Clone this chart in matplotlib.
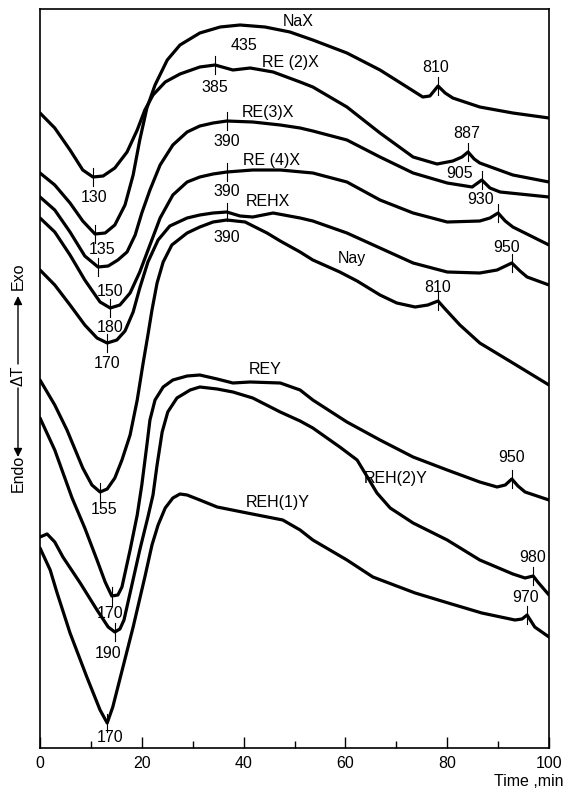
import numpy as np
import matplotlib
matplotlib.use("Agg")
import matplotlib.pyplot as plt
from matplotlib.patches import FancyArrowPatch

plt.rcParams['font.family'] = ['Liberation Sans', 'DejaVu Sans']

# ---------------- data: time (min) and ΔT (arbitrary units, exo up) ----------------
nax_t = [0, 2.9, 5.9, 8.4, 10.8, 12.8, 14.7, 16.7, 18.3, 19.6, 21.0, 22.6, 25.0, 27.5, 31.4,
         35.4, 39.3, 44.2, 49.1, 53.6, 60.3, 66.8, 72.1, 75.2, 76.6, 78.2, 79.6, 81.1, 86.4, 92.9, 100]
nax_dt = [575, 563, 545, 527, 514, 515, 523, 543, 573, 608, 640, 663, 688, 703, 715,
          721, 723, 721, 716, 708, 695, 678, 661, 651, 652, 662, 655, 650, 641, 635, 630]

re2x_t = [0, 2.9, 5.9, 8.4, 10.4, 12.4, 14.7, 17.1, 19.1, 20.6, 22.2, 24.6, 27.5, 31.4, 34.4,
          37.9, 41.3, 45.8, 51.1, 53.6, 60.3, 66.8, 73.3, 78.0, 81.1, 82.9, 84.1, 85.3, 86.4, 92.9, 100]
re2x_dt = [635, 620, 598, 578, 571, 572, 580, 596, 618, 638, 653, 666, 674, 681, 683,
           678, 680, 676, 666, 661, 641, 615, 591, 584, 587, 591, 596, 589, 585, 573, 566]

re3x_t = [0, 2.9, 5.9, 8.8, 11.4, 13.4, 15.3, 17.1, 18.7, 20.0, 21.6, 23.6, 26.1, 28.9, 31.4,
          34.0, 36.7, 41.8, 47.2, 51.1, 53.6, 60.3, 66.8, 73.3, 80.0, 84.9, 86.8, 88.4, 90.4, 100]
re3x_dt = [551, 538, 516, 492, 481, 482, 488, 496, 513, 535, 558, 583, 603, 616, 622,
           625, 627, 626, 623, 620, 617, 608, 591, 575, 565, 561, 568, 560, 556, 551]

re4x_t = [0, 2.9, 5.9, 8.8, 11.8, 13.8, 15.7, 17.7, 19.6, 21.6, 23.6, 26.1, 28.9, 31.4, 34.0,
          36.7, 41.8, 47.2, 53.6, 60.3, 66.8, 73.3, 80.0, 86.4, 88.4, 90.0, 91.4, 92.9, 100]
re4x_dt = [530, 516, 493, 468, 446, 440, 443, 455, 476, 503, 530, 553, 566, 571, 574,
           576, 578, 578, 575, 566, 548, 535, 526, 527, 530, 535, 527, 521, 503]

rehx_t = [0, 2.9, 5.9, 8.8, 11.2, 13.2, 15.1, 16.7, 18.3, 19.6, 21.2, 23.2, 25.5, 28.9, 31.4,
          34.0, 36.7, 39.3, 41.8, 45.8, 51.1, 53.6, 60.3, 66.8, 73.3, 80.0, 86.4, 89.8, 92.7,
          94.3, 95.7, 100]
rehx_dt = [478, 463, 443, 423, 410, 405, 408, 417, 436, 460, 486, 508, 522, 530, 533,
           535, 536, 532, 531, 535, 530, 527, 515, 500, 485, 476, 475, 478, 485,
           477, 471, 463]

nay_t = [0, 2.9, 5.3, 8.4, 10.2, 11.8, 13.2, 14.7, 16.1, 17.7, 19.1, 20.2, 21.2, 22.0, 23.0,
         24.2, 25.9, 28.9, 31.4, 34.0, 36.7, 40.3, 44.6, 47.2, 51.1, 53.6, 58.9, 62.3, 66.8,
         70.1, 73.7, 76.2, 78.2, 79.6, 82.5, 86.4, 92.9, 100]
nay_dt = [368, 343, 318, 280, 263, 256, 259, 270, 288, 313, 348, 383, 413, 438, 465,
          486, 503, 515, 521, 526, 528, 526, 515, 507, 496, 488, 476, 467, 453,
          445, 441, 443, 447, 439, 423, 405, 385, 363]

rey_t = [0, 2.9, 6.3, 8.8, 11.2, 12.8, 14.1, 15.3, 16.1, 17.7, 19.1, 20.0, 21.0, 21.6, 22.6,
         24.2, 26.1, 28.9, 31.4, 34.8, 37.9, 41.3, 47.2, 51.1, 53.6, 60.3, 66.8, 73.3, 80.0,
         86.4, 89.8, 91.4, 92.7, 93.9, 95.3, 100]
rey_dt = [330, 298, 250, 220, 188, 166, 152, 153, 161, 198, 233, 263, 303, 328, 348,
          361, 368, 372, 373, 369, 365, 366, 365, 358, 348, 326, 308, 291, 278,
          266, 261, 263, 269, 262, 256, 248]

reh2y_t = [0, 1.4, 2.9, 4.5, 7.9, 11.2, 13.4, 14.7, 15.7, 16.5, 17.7, 19.6, 21.2, 22.2, 23.0,
           24.0, 25.1, 26.9, 29.5, 31.4, 34.8, 37.9, 41.8, 47.2, 51.1, 53.6, 58.9, 62.3, 64.2,
           66.2, 68.8, 73.3, 80.0, 86.4, 92.9, 95.3, 96.9, 97.8, 100]
reh2y_dt = [211, 214, 206, 191, 165, 138, 121, 116, 119, 128, 155, 198, 231, 253, 283,
            316, 336, 350, 358, 361, 359, 356, 350, 336, 327, 320, 301, 288, 272,
            255, 240, 225, 208, 188, 174, 170, 172, 166, 153]

reh1y_t = [0, 2.0, 3.3, 5.9, 9.2, 11.8, 13.2, 14.3, 16.3, 18.3, 20.6, 22.0, 23.2, 24.6, 26.1,
           27.5, 28.9, 31.4, 34.8, 40.7, 47.7, 51.1, 53.6, 60.3, 65.4, 73.7, 80.2, 86.8, 93.3,
           94.7, 95.7, 97.2, 100]
reh1y_dt = [200, 178, 156, 115, 71, 38, 25, 41, 81, 121, 171, 203, 223, 240, 250,
            254, 253, 248, 241, 235, 228, 218, 208, 188, 171, 155, 145, 135, 128,
            129, 133, 121, 111]

curve_names = ["NaX", "RE (2)X", "RE(3)X", "RE (4)X", "REHX", "Nay", "REY", "REH(2)Y", "REH(1)Y"]
curve_t = [nax_t, re2x_t, re3x_t, re4x_t, rehx_t, nay_t, rey_t, reh2y_t, reh1y_t]
curve_dt = [nax_dt, re2x_dt, re3x_dt, re4x_dt, rehx_dt, nay_dt, rey_dt, reh2y_dt, reh1y_dt]

# temperature marks (°C) on each trace: curve index, time of the mark, label
mark_curve = [0, 0, 0, 1, 1, 1, 2, 2, 2, 3, 3, 3, 4, 4, 4, 5, 5, 6, 6, 7, 7, 8, 8]
mark_t = [10.8, 39.3, 78.2, 10.4, 34.4, 84.1, 11.4, 36.7, 86.8, 13.8, 36.7, 90.0,
          13.2, 36.7, 92.7, 11.8, 78.2, 14.1, 92.7, 14.7, 96.9, 13.2, 95.7]
mark_text = ["135", "435", "810", "130", "385", "887", "150", "390", "905", "180", "390", "930",
             "170", "390", "950", "155", "810", "170", "950", "190", "980", "170", "970"]

x_ticks = [0, 20, 40, 60, 80, 100]
x_minor = [10, 30, 50, 70, 90]

# ---------------- layout ----------------
W, H = 565, 799
fig = plt.figure(figsize=(W / 100, H / 100), dpi=100)
L, R, T, B = 40, 549, 9, 748
ax = fig.add_axes([L / W, 1 - B / H, (R - L) / W, (B - T) / H])
ax.set_xlim(0, 100)
ax.set_ylim(0, B - T)

for t, d in zip(curve_t, curve_dt):
    ax.plot(t, d, color='black', lw=2.3, solid_joinstyle='round', solid_capstyle='round')

# curve name label positions (data coords)
name_pos = [(50.7, 726), (49.1, 686), (44.8, 635), (45.4, 588), (44.8, 546),
            (61.3, 490), (44.2, 378), (69.9, 270), (46.8, 245)]
for name, (lx, ly) in zip(curve_names, name_pos):
    ax.text(lx, ly, name, ha='center', va='center', fontsize=11.5)

# mark label positions and whether a small tick is drawn
mark_label_pos = [(12.2, 498), (40.1, 703), (77.8, 680), (10.6, 551), (34.4, 661), (83.9, 615),
                  (13.8, 456), (36.7, 606), (82.5, 575), (13.8, 420), (36.7, 557), (86.6, 548),
                  (13.2, 385), (36.7, 511), (91.7, 501), (12.6, 238), (78.2, 460), (13.8, 135),
                  (92.7, 290), (13.4, 95), (96.7, 190), (13.8, 10), (95.3, 150)]
mark_has_tick = [True, False, True, True, True, True, True, True, True, True, True, True,
                 True, True, True, True, True, True, True, True, True, True, True]
for ci, mt, txt, (lx, ly), tk in zip(mark_curve, mark_t, mark_text, mark_label_pos, mark_has_tick):
    if tk:
        v = np.interp(mt, curve_t[ci], curve_dt[ci])
        ax.plot([mt, mt], [v - 9, v + 9], color='black', lw=0.8)
    ax.text(lx, ly, txt, ha='center', va='center', fontsize=11.5)

ax.set_xticks(x_ticks)
ax.set_xticks(x_minor, minor=True)
ax.set_yticks([])
ax.tick_params(axis='x', which='major', direction='in', length=8, width=1.0,
               labelsize=11.5, pad=6)
ax.tick_params(axis='x', which='minor', direction='in', length=5, width=1.0)
for s in ax.spines.values():
    s.set_linewidth(1.2)

fig.text(563 / W, 1 - 781 / H, "Time ,min", ha='right', va='center', fontsize=11.5)

# vertical ΔT label with arrows
xl = 18 / W
fig.text(xl, 1 - 276 / H, "Exo", rotation=90, ha='center', va='center', fontsize=11.5)
fig.text(xl, 1 - 376 / H, "ΔT", rotation=90, ha='center', va='center', fontsize=11.5)
fig.text(xl, 1 - 473 / H, "Endo", rotation=90, ha='center', va='center', fontsize=11.5)
for y0, y1 in [(364, 296), (388, 457)]:
    fig.add_artist(FancyArrowPatch((xl, 1 - y0 / H), (xl, 1 - y1 / H), transform=fig.transFigure,
                                   arrowstyle='-|>,head_length=5,head_width=2.5', lw=1.0,
                                   color='black', shrinkA=0, shrinkB=0))

fig.savefig("out.png", dpi=100)
